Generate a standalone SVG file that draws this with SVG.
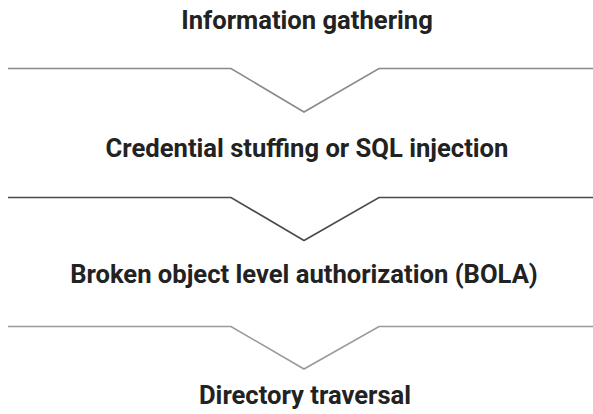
<svg xmlns="http://www.w3.org/2000/svg" width="593" height="414" viewBox="0 0 593 414">
<style>
.t{font-family:Roboto,"Liberation Sans",sans-serif;font-weight:bold;font-size:25.6px;fill:#222;text-anchor:middle}
.c{fill:none;stroke-width:1.6;stroke-linejoin:miter}
</style>
<rect width="593" height="414" fill="#fff"/>
<g id="connectors">
<polyline class="c" stroke="#8a8a8a" points="8,68.5 231,68.5 304,112 379,68.5 593,68.5"/>
<polyline class="c" stroke="#4a4a4a" points="8,197.5 231,197.5 304,240.5 379,197.5 593,197.5"/>
<polyline class="c" stroke="#9a9a9a" points="8,326.5 231,326.5 304,369 379,326.5 593,326.5"/>
</g>
<g id="n1"><text class="t" x="307" y="29">Information gathering</text></g>
<g id="n2"><text class="t" x="307" y="157">Credential stuffing or SQL injection</text></g>
<g id="n3"><text class="t" x="304" y="283">Broken object level authorization (BOLA)</text></g>
<g id="n4"><text class="t" x="305" y="404">Directory traversal</text></g>
</svg>
